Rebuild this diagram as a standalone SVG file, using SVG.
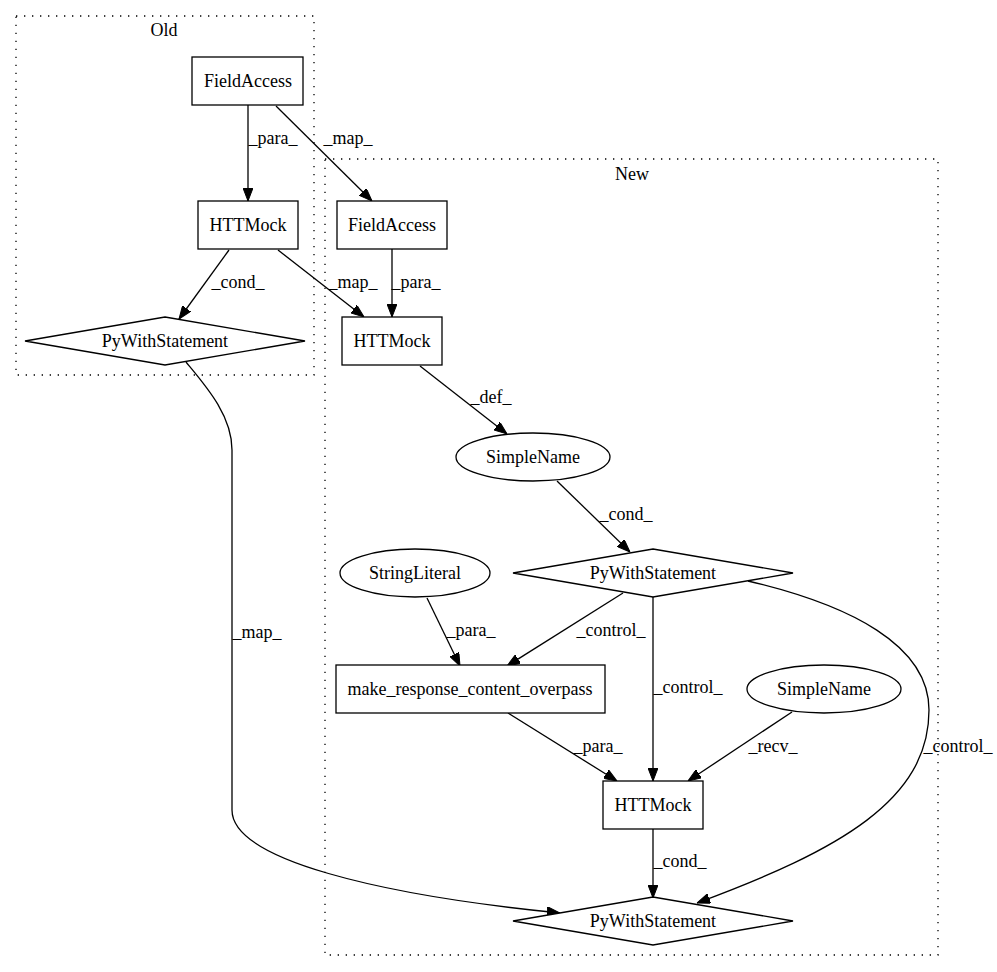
<svg xmlns="http://www.w3.org/2000/svg" width="997" height="972" viewBox="0 0 997 972">
<style>
text{font-family:"Liberation Serif","Times New Roman",serif;font-size:18px;fill:#000;text-anchor:middle}
.n{fill:#fff;stroke:#000;stroke-width:1.3}
.cl{fill:none;stroke:#000;stroke-width:1.3;stroke-dasharray:1.33,6.67}
.e{fill:none;stroke:#000;stroke-width:1.3;marker-end:url(#ah)}
</style>
<defs>
<marker id="ah" markerUnits="userSpaceOnUse" markerWidth="13" markerHeight="10" viewBox="0 0 13 10" refX="13" refY="5" orient="auto">
<path d="M0,0 L13,5 L0,10 z" fill="#000" stroke="#000" stroke-width="1"/>
</marker>
</defs>
<rect x="0" y="0" width="997" height="972" fill="#fff"/>
<g id="cluster_old">
<rect class="cl" x="16" y="16" width="298" height="359"/>
<text x="164" y="36">Old</text>
</g>
<g id="cluster_new">
<rect class="cl" x="325" y="159" width="613" height="796"/>
<text x="632" y="180">New</text>
</g>
<g id="edges">
<path class="e" d="M248,105 L248,201"/>
<text x="273" y="144">_para_</text>
<path class="e" d="M276,106 L372,201"/>
<text x="348" y="144">_map_</text>
<path class="e" d="M229,250 L179,319"/>
<text x="238" y="288">_cond_</text>
<path class="e" d="M278,250 L364,317"/>
<text x="353" y="288">_map_</text>
<path class="e" d="M392,249 L392,317"/>
<text x="416" y="288">_para_</text>
<path class="e" d="M420,366 L507,434"/>
<text x="491" y="403">_def_</text>
<path class="e" d="M557,481 L630,552"/>
<text x="626" y="520">_cond_</text>
<path class="e" d="M427,598 L460,666"/>
<text x="471" y="636">_para_</text>
<path class="e" d="M623,593 L507,666"/>
<text x="611" y="636">_control_</text>
<path class="e" d="M653,597 L653,781"/>
<text x="688" y="693">_control_</text>
<path class="e" d="M748,581 C850,605 929,645 929,710 C929,800 840,850 697,903"/>
<text x="958" y="752">_control_</text>
<path class="e" d="M508,713 L617,781"/>
<text x="598" y="752">_para_</text>
<path class="e" d="M792,712 L688,781"/>
<text x="773" y="752">_recv_</text>
<path class="e" d="M653,829 L653,898"/>
<text x="680" y="867">_cond_</text>
<path class="e" d="M186,362 C205,385 232,415 232,450 L232,810 C232,860 380,895 560,913"/>
<text x="257" y="638">_map_</text>
</g>
<g id="old_fieldaccess">
<rect class="n" x="192" y="57" width="111" height="48"/>
<text x="248" y="87">FieldAccess</text>
</g>
<g id="old_httmock">
<rect class="n" x="198" y="201" width="100" height="48"/>
<text x="248" y="231">HTTMock</text>
</g>
<g id="old_pywith">
<polygon class="n" points="165,317 305,341 165,365 25,341"/>
<text x="165" y="347">PyWithStatement</text>
</g>
<g id="new_fieldaccess">
<rect class="n" x="337" y="201" width="110" height="48"/>
<text x="392" y="231">FieldAccess</text>
</g>
<g id="new_httmock1">
<rect class="n" x="342" y="317" width="100" height="48"/>
<text x="392" y="347">HTTMock</text>
</g>
<g id="new_simplename1">
<ellipse class="n" cx="533" cy="457" rx="77" ry="24"/>
<text x="533" y="463">SimpleName</text>
</g>
<g id="new_pywith1">
<polygon class="n" points="653,549 793,573 653,597 513,573"/>
<text x="653" y="579">PyWithStatement</text>
</g>
<g id="new_stringliteral">
<ellipse class="n" cx="415" cy="573" rx="75" ry="24"/>
<text x="415" y="579">StringLiteral</text>
</g>
<g id="new_make_response">
<rect class="n" x="336" y="665" width="269" height="48"/>
<text x="470" y="695">make_response_content_overpass</text>
</g>
<g id="new_simplename2">
<ellipse class="n" cx="824" cy="689" rx="77" ry="24"/>
<text x="824" y="695">SimpleName</text>
</g>
<g id="new_httmock2">
<rect class="n" x="603" y="781" width="100" height="48"/>
<text x="653" y="811">HTTMock</text>
</g>
<g id="new_pywith2">
<polygon class="n" points="653,897 793,921 653,945 513,921"/>
<text x="653" y="927">PyWithStatement</text>
</g>
</svg>
